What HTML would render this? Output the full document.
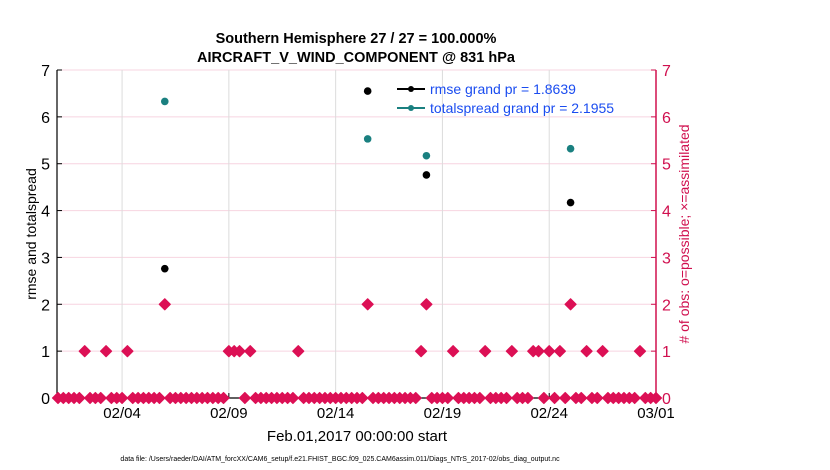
<!DOCTYPE html>
<html><head><meta charset="utf-8"><style>
body{margin:0;background:#fff;}
svg{display:block;font-family:"Liberation Sans",sans-serif;}
</style></head><body>
<svg id="chart" width="830" height="470" xmlns="http://www.w3.org/2000/svg">
<text x="356" y="43" text-anchor="middle" font-size="14.5" font-weight="bold">Southern Hemisphere 27 / 27 = 100.000%</text>
<text x="356" y="62" text-anchor="middle" font-size="14.5" font-weight="bold">AIRCRAFT_V_WIND_COMPONENT @ 831 hPa</text>
<g id="grid"></g>
<g id="axes"></g>
<g id="marks"></g>
<g>
<line x1="397" y1="89" x2="425" y2="89" stroke="#000" stroke-width="2"/><circle cx="411" cy="89" r="3" fill="#000"/>
<text x="430" y="94" font-size="14" fill="#1a4cf0">rmse grand pr = 1.8639</text>
<line x1="397" y1="108" x2="425" y2="108" stroke="#1a8080" stroke-width="2"/><circle cx="411" cy="108" r="3" fill="#1a8080"/>
<text x="430" y="113" font-size="14" fill="#1a4cf0">totalspread grand pr = 2.1955</text>
</g>
<text transform="translate(36,234) rotate(-90)" text-anchor="middle" font-size="14">rmse and totalspread</text>
<text transform="translate(689,234) rotate(-90)" text-anchor="middle" font-size="14" fill="#d0104f"># of obs: o=possible; ×=assimilated</text>
<text x="357" y="441" text-anchor="middle" font-size="15">Feb.01,2017 00:00:00 start</text>
<text x="340" y="461" text-anchor="middle" font-size="7">data file: /Users/raeder/DAI/ATM_forcXX/CAM6_setup/f.e21.FHIST_BGC.f09_025.CAM6assim.011/Diags_NTrS_2017-02/obs_diag_output.nc</text>
</svg>
<script>
const xTickLabels=["02/04","02/09","02/14","02/19","02/24","03/01"];
const xTickDays=[3,8,13,18,23,28];
const yTicks=[0,1,2,3,4,5,6,7];
const obsCounts=[0,0,0,0,0,1,0,0,0,1,0,0,0,1,0,0,0,0,0,0,2,0,0,0,0,0,0,0,0,0,0,0,1,1,1,0,1,0,0,0,0,0,0,0,0,1,0,0,0,0,0,0,0,0,0,0,0,0,2,0,0,0,0,0,0,0,0,0,1,2,0,0,0,0,1,0,0,0,0,0,1,0,0,0,0,1,0,0,0,1,1,0,1,0,1,0,2,0,0,1,0,0,1,0,0,0,0,0,0,1,0,0,0];
const metricSlots=[20,58,69,96];
const rmseValues=[2.76,6.55,4.76,4.17];
const spreadValues=[6.33,5.53,5.17,5.32];
const NS="http://www.w3.org/2000/svg";
const L=57,R=656,T=70,B=398;
function xDay(d){return 58+d*(R-58)/28;}
function xSlot(s){return xDay(s/4);}
function y(v){return B-v*(B-T)/7;}
function mk(tag,attrs,parent,text){const e=document.createElementNS(NS,tag);for(const k in attrs)e.setAttribute(k,attrs[k]);if(text!==undefined)e.textContent=text;parent.appendChild(e);return e;}
const grid=document.getElementById('grid'),axes=document.getElementById('axes'),marks=document.getElementById('marks');
yTicks.forEach(v=>{
 const g=mk('line',{x1:L,x2:R,y1:y(v),y2:y(v),stroke:'#f7d4e0','stroke-width':1},grid);
 
 
 const t=mk('text',{x:L-7,y:y(v)+6,'text-anchor':'end','font-size':16},axes,String(v));
 
 
 const t2=mk('text',{x:R+6,y:y(v)+6,'font-size':16,fill:'#d0104f'},axes,String(v));
 
 
 mk('line',{x1:L,x2:L+5,y1:y(v),y2:y(v),stroke:'#000'},axes);
 mk('line',{x1:R-5,x2:R,y1:y(v),y2:y(v),stroke:'#d0104f'},axes);
});
xTickDays.forEach((d,i)=>{
 const g=mk('line',{x1:xDay(d),x2:xDay(d),y1:T,y2:B,stroke:'#dcdcdc','stroke-width':1},grid);
 
 
 mk('line',{x1:xDay(d),x2:xDay(d),y1:B,y2:B-5,stroke:'#000'},axes);
 const t=mk('text',{x:xDay(d),y:B+20,'text-anchor':'middle','font-size':15},axes,xTickLabels[i]);
 
 
});
mk('line',{x1:L,x2:L,y1:T,y2:B,stroke:'#000','stroke-width':1.2},axes);
mk('line',{x1:L,x2:R,y1:B,y2:B,stroke:'#000','stroke-width':1.2},axes);
mk('line',{x1:R,x2:R,y1:T,y2:B,stroke:'#d0104f','stroke-width':1.5},axes);
obsCounts.forEach((c,s)=>{
 if(c===null)return;
 const cx=xSlot(s),cy=y(c),r=5.5;
 const p=mk('polygon',{points:`${cx},${cy-r} ${cx+r},${cy} ${cx},${cy+r} ${cx-r},${cy}`,fill:'#dc1055',stroke:'#dc1055','stroke-width':1.2,'stroke-linejoin':'round'},marks);
 
 
});
metricSlots.forEach((s,i)=>{
 const a=mk('circle',{cx:xSlot(s),cy:y(rmseValues[i]),r:3.8,fill:'#000'},marks);
 
 
 const b=mk('circle',{cx:xSlot(s),cy:y(spreadValues[i]),r:3.8,fill:'#1a8080'},marks);
 
 
});
</script>
</body></html>
